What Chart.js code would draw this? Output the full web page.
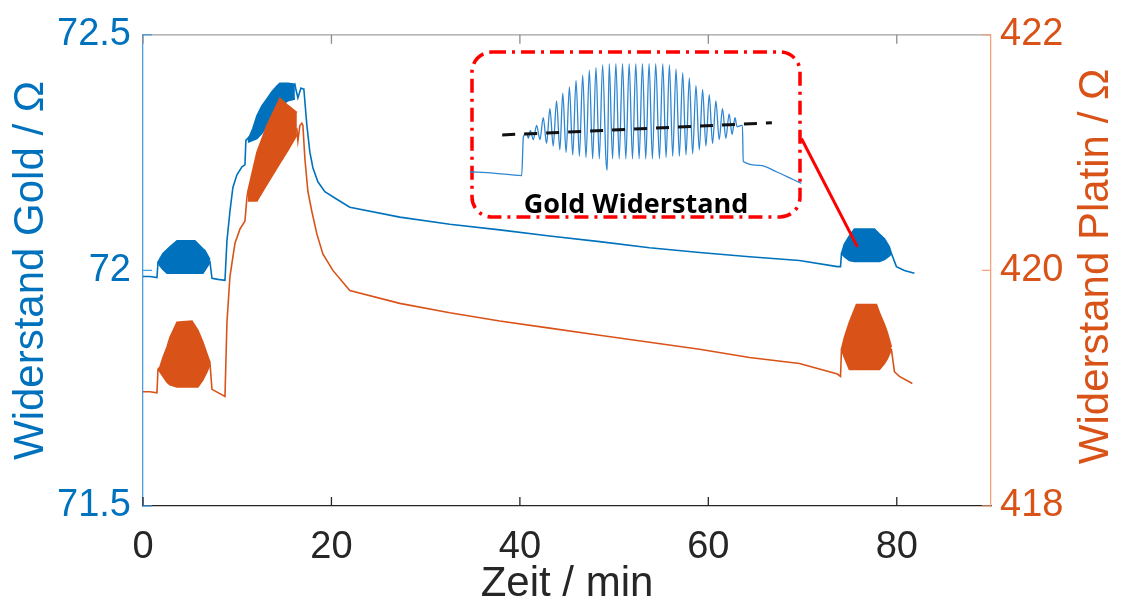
<!DOCTYPE html>
<html>
<head>
<meta charset="utf-8">
<script src="https://cdn.jsdelivr.net/npm/chart.js@4.4.1/dist/chart.umd.min.js"></script>
<style>
  body { margin: 0; background: #fff; }
  #wrap { position: relative; width: 1121px; height: 610px; }
  #inset { position: absolute; left: 469px; top: 49px; }
</style>
</head>
<body>
<div id="wrap">
  <canvas id="main" width="1121" height="610"></canvas>
  <canvas id="inset" width="334" height="171"></canvas>
</div>
<script>
// axis ticks
const xTicks = [0, 20, 40, 60, 80];
const goldTicks = [71.5, 72, 72.5];
const platinTicks = [418, 420, 422];

// gold resistance (left axis), time in min
const goldTime = [0, 0.74, 1.48, 1.59, 4.5, 7.10, 7.32, 7.95, 8.70, 8.91, 9.23, 9.54, 9.97, 10.50, 10.82, 10.92,
  13.5, 16.12, 16.22, 16.44, 16.76, 16.97, 17.07, 17.39, 17.71, 18.03, 18.56, 19.30, 20.57, 21.95,
  27.25, 32.56, 37.86, 43.16, 48.46, 53.76, 59.07, 64.37, 69.67, 73.70, 74.03, 74.13, 76.8, 79.43, 79.96, 80.81, 81.87];
const goldValue = [71.987, 71.987, 71.985, 72.017, 72.030, 72.019, 71.983, 71.981, 71.979, 72.063, 72.126, 72.176, 72.203, 72.220, 72.224, 72.276,
  72.330, 72.395, 72.385, 72.366, 72.387, 72.385, 72.385, 72.308, 72.251, 72.218, 72.188, 72.167, 72.151, 72.134,
  72.113, 72.098, 72.086, 72.073, 72.061, 72.048, 72.038, 72.029, 72.021, 72.008, 72.008, 72.036, 72.050, 72.036, 72.008, 72.000, 71.994];

// gold oscillation envelopes
const goldBurst1Time  = [1.59, 1.80, 2.12, 2.55, 2.86, 3.61, 5.51, 6.36, 6.57, 7.10];
const goldBurst1Upper = [72.017, 72.025, 72.036, 72.044, 72.050, 72.063, 72.063, 72.046, 72.042, 72.023];
const goldBurst1Lower = [72.017, 72.010, 72.002, 71.994, 71.994, 71.994, 71.994, 71.994, 72.000, 72.017];

const goldBurst2Time  = [11.13, 11.66, 12.09, 12.62, 13.15, 13.68, 14.21, 14.53, 15.38, 16.12];
const goldBurst2Upper = [72.276, 72.301, 72.328, 72.349, 72.364, 72.379, 72.391, 72.397, 72.397, 72.395];
const goldBurst2Lower = [72.272, 72.276, 72.280, 72.291, 72.308, 72.324, 72.339, 72.349, 72.360, 72.364];

const goldBurst3Time  = [74.13, 74.44, 74.97, 75.50, 77.62, 78.16, 78.69, 79.21, 79.43];
const goldBurst3Upper = [72.036, 72.056, 72.073, 72.088, 72.088, 72.077, 72.067, 72.050, 72.036];
const goldBurst3Lower = [72.036, 72.029, 72.021, 72.019, 72.019, 72.019, 72.023, 72.031, 72.036];

// platinum resistance (right axis)
const platinTime = [0, 0.74, 1.48, 1.59, 4.4, 7.10, 7.32, 8.70, 8.91, 9.23, 9.76, 10.29, 10.82, 11.03, 11.13,
  13.5, 16.33, 16.44, 16.65, 16.86, 16.97, 17.18, 17.50, 17.92, 18.45, 19.09, 20.15, 21.95,
  27.25, 32.56, 37.86, 43.16, 48.46, 53.76, 59.07, 64.37, 69.67, 73.70, 74.03, 74.13, 76.8, 79.43, 79.75, 80.28, 81.65];
const platinValue = [418.97, 418.97, 418.96, 419.16, 419.29, 419.22, 418.99, 418.93, 419.56, 419.95, 420.23, 420.35, 420.42, 420.62, 420.67,
  421.00, 421.20, 421.10, 421.23, 421.25, 421.23, 420.95, 420.67, 420.50, 420.31, 420.14, 420.00, 419.83,
  419.72, 419.64, 419.57, 419.51, 419.45, 419.39, 419.33, 419.26, 419.21, 419.12, 419.10, 419.33, 419.40, 419.33, 419.14, 419.10, 419.04];

const platinBurst1Time  = [1.59, 1.80, 2.12, 2.55, 2.86, 3.61, 5.20, 5.83, 6.36, 6.79, 7.10];
const platinBurst1Upper = [419.16, 419.18, 419.26, 419.35, 419.43, 419.56, 419.57, 419.49, 419.39, 419.29, 419.22];
const platinBurst1Lower = [419.16, 419.14, 419.10, 419.05, 419.03, 419.01, 419.01, 419.01, 419.07, 419.14, 419.20];

const platinBurst2Time  = [11.13, 12.09, 13.15, 14.53, 15.38, 16.33];
const platinBurst2Upper = [420.67, 421.00, 421.23, 421.46, 421.40, 421.34];
const platinBurst2Lower = [420.59, 420.59, 420.73, 420.91, 421.02, 421.15];

const platinBurst3Time  = [74.13, 74.44, 74.97, 75.72, 77.84, 78.16, 78.69, 79.00, 79.43];
const platinBurst3Upper = [419.33, 419.43, 419.56, 419.71, 419.71, 419.64, 419.54, 419.47, 419.35];
const platinBurst3Lower = [419.33, 419.26, 419.16, 419.16, 419.16, 419.16, 419.21, 419.25, 419.33];

// pointer from the detail box to the last burst
const connectorTime = [69.88, 75.82];
const connectorGold = [72.280, 72.050];

// detail of the last gold burst
const insetTime = [72.82, 73.39, 74.07, 74.11, 74.19, 74.23, 74.28, 74.35, 74.43, 74.51, 74.59, 74.67, 74.75, 74.83, 74.91, 74.99,
  75.06, 75.14, 75.22, 75.30, 75.38, 75.46, 75.54, 75.62, 75.70, 75.78, 75.86, 75.94, 76.02, 76.10, 76.13, 76.18,
  76.26, 76.34, 76.42, 76.50, 76.58, 76.66, 76.74, 76.82, 76.90, 76.98, 77.06, 77.14, 77.22, 77.30, 77.39, 77.47,
  77.55, 77.63, 77.71, 77.79, 77.87, 77.95, 78.03, 78.11, 78.19, 78.27, 78.35, 78.43, 78.51, 78.59, 78.67, 78.75,
  78.83, 78.91, 78.99, 79.07, 79.14, 79.21, 79.26, 79.37, 79.39, 79.41, 79.81, 80.21, 80.61, 80.81];
const insetGold = [72.009, 72.008, 72.006, 72.036, 72.039, 72.035, 72.041, 72.034, 72.045, 72.034, 72.051, 72.031, 72.058, 72.029, 72.064, 72.026,
  72.070, 72.024, 72.075, 72.022, 72.080, 72.021, 72.084, 72.020, 72.088, 72.019, 72.090, 72.019, 72.092, 72.019, 72.010, 72.093,
  72.019, 72.093, 72.019, 72.093, 72.019, 72.093, 72.019, 72.093, 72.019, 72.093, 72.019, 72.093, 72.019, 72.093, 72.019, 72.093,
  72.020, 72.092, 72.021, 72.089, 72.021, 72.086, 72.022, 72.082, 72.023, 72.076, 72.026, 72.073, 72.029, 72.069, 72.031, 72.064,
  72.034, 72.058, 72.035, 72.054, 72.038, 72.051, 72.044, 72.045, 72.045, 72.017, 72.014, 72.009, 72.003, 72.000];
const trendTime = [73.6, 80.1];
const trendGold = [72.0376, 72.047];

const GOLD = '#0072BD';
const PLATIN = '#D95319';
const FONT = "'Liberation Sans', Arial, sans-serif";

const pts = (t, v) => t.map((x, i) => ({ x: x, y: v[i] }));

function line(data, axis, color, order, extra) {
  return Object.assign({ data: data, yAxisID: axis, borderColor: color, backgroundColor: color,
    borderWidth: 1.6, pointRadius: 0, fill: false, order: order }, extra || {});
}

// box top edge, inward ticks and the right-hand title
const frame = {
  id: 'frame',
  afterDraw(chart) {
    const ctx = chart.ctx, a = chart.chartArea;
    const xs = chart.scales.x, yl = chart.scales.yL, yr = chart.scales.yR;
    ctx.save();
    ctx.lineWidth = 1.3;
    ctx.strokeStyle = '#a0a0a0';
    ctx.beginPath(); ctx.moveTo(a.left, a.top); ctx.lineTo(a.right, a.top); ctx.stroke();
    xTicks.forEach(v => {
      const px = xs.getPixelForValue(v);
      ctx.strokeStyle = '#262626';
      ctx.beginPath(); ctx.moveTo(px, a.bottom); ctx.lineTo(px, a.bottom - 9); ctx.stroke();
      ctx.strokeStyle = '#8c8c8c';
      ctx.beginPath(); ctx.moveTo(px, a.top); ctx.lineTo(px, a.top + 9); ctx.stroke();
    });
    ctx.strokeStyle = '#4a9ee0';
    goldTicks.forEach(v => {
      const py = yl.getPixelForValue(v);
      ctx.beginPath(); ctx.moveTo(a.left, py); ctx.lineTo(a.left + 9, py); ctx.stroke();
    });
    ctx.strokeStyle = '#f0a47e';
    platinTicks.forEach(v => {
      const py = yr.getPixelForValue(v);
      ctx.beginPath(); ctx.moveTo(a.right, py); ctx.lineTo(a.right - 9, py); ctx.stroke();
    });
    ctx.translate(1096, (a.top + a.bottom) / 2 - 4);
    ctx.rotate(-Math.PI / 2);
    ctx.fillStyle = PLATIN;
    ctx.font = '42px ' + FONT;
    ctx.textAlign = 'center';
    ctx.textBaseline = 'middle';
    ctx.fillText('Widerstand Platin / Ω', 0, 0);
    ctx.restore();
  }
};

new Chart(document.getElementById('main'), {
  type: 'line',
  data: {
    datasets: [
      line(pts(goldTime, goldValue), 'yL', GOLD, 2),
      line(pts(goldBurst1Time, goldBurst1Upper), 'yL', GOLD, 2, { fill: '+1' }),
      line(pts(goldBurst1Time, goldBurst1Lower), 'yL', GOLD, 2),
      line(pts(goldBurst2Time, goldBurst2Upper), 'yL', GOLD, 2, { fill: '+1' }),
      line(pts(goldBurst2Time, goldBurst2Lower), 'yL', GOLD, 2),
      line(pts(goldBurst3Time, goldBurst3Upper), 'yL', GOLD, 2, { fill: '+1' }),
      line(pts(goldBurst3Time, goldBurst3Lower), 'yL', GOLD, 2),
      line(pts(platinTime, platinValue), 'yR', PLATIN, 1),
      line(pts(platinBurst1Time, platinBurst1Upper), 'yR', PLATIN, 1, { fill: '+1' }),
      line(pts(platinBurst1Time, platinBurst1Lower), 'yR', PLATIN, 1),
      line(pts(platinBurst2Time, platinBurst2Upper), 'yR', PLATIN, 1, { fill: '+1' }),
      line(pts(platinBurst2Time, platinBurst2Lower), 'yR', PLATIN, 1),
      line(pts(platinBurst3Time, platinBurst3Upper), 'yR', PLATIN, 1, { fill: '+1' }),
      line(pts(platinBurst3Time, platinBurst3Lower), 'yR', PLATIN, 1),
      line(pts(connectorTime, connectorGold), 'yL', '#ff0000', 0, { borderWidth: 3 })
    ]
  },
  options: {
    responsive: false,
    animation: false,
    layout: { padding: { top: 28, left: 0, right: 0, bottom: 0 } },
    plugins: { legend: { display: false }, tooltip: { enabled: false } },
    elements: { line: { tension: 0 } },
    scales: {
      x: {
        type: 'linear', min: 0, max: 90,
        afterBuildTicks: s => { s.ticks = xTicks.map(v => ({ value: v })); },
        afterFit: s => { s.height = 104; },
        grid: { drawOnChartArea: false, drawTicks: false },
        border: { color: '#262626', width: 1.3 },
        ticks: { color: '#262626', padding: 19, maxRotation: 0, font: { family: FONT, size: 38 } },
        title: { display: true, text: 'Zeit / min', color: '#262626', padding: { top: 0, bottom: 0 }, font: { family: FONT, size: 42 } }
      },
      yL: {
        type: 'linear', position: 'left', min: 71.5, max: 72.5,
        afterBuildTicks: s => { s.ticks = goldTicks.map(v => ({ value: v })); },
        afterFit: s => { s.width = 143; },
        grid: { drawOnChartArea: false, drawTicks: false },
        border: { color: '#4a9ee0', width: 1.3 },
        ticks: { color: GOLD, padding: 12, font: { family: FONT, size: 38 }, callback: v => String(v) },
        title: { display: true, text: 'Widerstand Gold / Ω', color: GOLD, padding: { top: 6, bottom: 0 }, font: { family: FONT, size: 42 } }
      },
      yR: {
        type: 'linear', position: 'right', min: 418, max: 422,
        afterBuildTicks: s => { s.ticks = platinTicks.map(v => ({ value: v })); },
        afterFit: s => { s.width = 130; },
        grid: { drawOnChartArea: false, drawTicks: false },
        border: { color: '#f0a47e', width: 1.3 },
        ticks: { color: PLATIN, padding: 9, font: { family: FONT, size: 38 }, callback: v => String(v) }
      }
    }
  },
  plugins: [frame]
});

// dashed rounded frame and caption of the detail view
const detailFrame = {
  id: 'detailFrame',
  beforeDatasetsDraw(chart) {
    const ctx = chart.ctx;
    ctx.save();
    ctx.strokeStyle = '#ff0000';
    ctx.lineWidth = 3.5;
    ctx.setLineDash([14, 6, 3, 6]);
    ctx.beginPath();
    ctx.roundRect(3, 3, 328, 165, 20);
    ctx.stroke();
    ctx.restore();
  },
  afterDraw(chart) {
    const ctx = chart.ctx;
    ctx.save();
    ctx.fillStyle = '#000';
    ctx.font = "bold 27px 'Open Sans', sans-serif";
    ctx.textAlign = 'center';
    ctx.textBaseline = 'alphabetic';
    ctx.fillText('Gold Widerstand', 167, 164);
    ctx.restore();
  }
};

new Chart(document.getElementById('inset'), {
  type: 'line',
  data: {
    datasets: [
      { data: pts(trendTime, trendGold), borderColor: '#111', borderWidth: 3, borderDash: [13, 9], pointRadius: 0, order: 0 },
      { data: pts(insetTime, insetGold), borderColor: '#2f86d0', borderWidth: 1.3, pointRadius: 0,
        cubicInterpolationMode: 'monotone', order: 1 }
    ]
  },
  options: {
    responsive: false,
    animation: false,
    layout: { padding: 0 },
    plugins: { legend: { display: false }, tooltip: { enabled: false } },
    scales: {
      x: { type: 'linear', display: false, min: 72.80, max: 80.85 },
      y: { display: false, min: 71.9715, max: 72.1044 }
    }
  },
  plugins: [detailFrame]
});
</script>
</body>
</html>
